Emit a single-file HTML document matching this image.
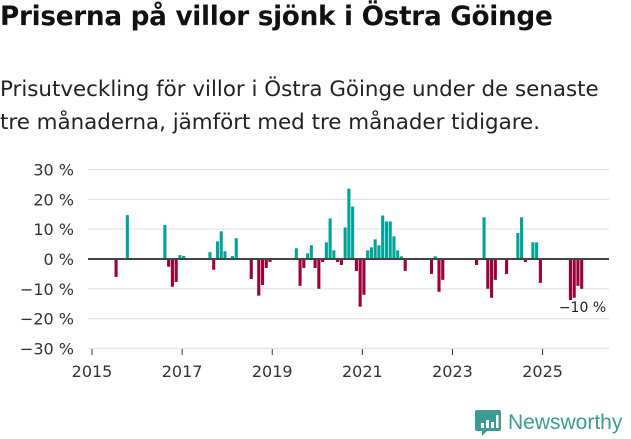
<!DOCTYPE html>
<html><head><meta charset="utf-8"><style>
body{margin:0;width:631px;height:439px;background:#fff;font-family:"DejaVu Sans","Liberation Sans",sans-serif;overflow:hidden;position:relative}
h1{position:absolute;left:0;top:2px;margin:0;font-size:26.3px;font-weight:bold;color:#111;letter-spacing:-0.3px;white-space:nowrap}
.sub{position:absolute;left:0;top:73px;margin:0;font-size:21.4px;line-height:33px;color:#222;white-space:nowrap}
svg{position:absolute;left:0;top:0}
</style></head><body>
<h1>Priserna på villor sjönk i Östra Göinge</h1>
<p class="sub">Prisutveckling för villor i Östra Göinge under de senaste<br>tre månaderna, jämfört med tre månader tidigare.</p>
<svg width="631" height="439">
<g id="grid"></g><g id="bars"></g><g id="axes"></g>
<g>
<path d="M477 410 h22 a2 2 0 0 1 2 2 v17 a2 2 0 0 1 -2 2 h-12 l-5 5 v-5 h-5 a2 2 0 0 1 -2 -2 v-17 a2 2 0 0 1 2 -2z" fill="#3d9c92"/>
<rect x="481" y="423" width="3" height="5" fill="#fff"/><rect x="486" y="420" width="3" height="8" fill="#fff"/><rect x="491" y="422" width="3" height="6" fill="#fff"/><rect x="496" y="415" width="2.5" height="13" fill="#fff"/>
<text x="508" y="429" font-size="21" fill="#3d9c92" font-family="Liberation Sans, sans-serif">Newsworthy</text>
</g>
</svg>
<script>
const startYear = 2015;
const months = [6,9,19,20,21,22,23,24,31,32,33,34,35,37,38,42,44,45,46,47,54,55,56,57,58,59,60,61,62,63,64,65,66,67,68,69,70,71,72,73,74,75,76,77,78,79,80,81,82,83,90,91,92,93,102,104,105,106,107,110,113,114,115,117,118,119,127,128,129,130];
const values = [-6,14.7,11.4,-2.6,-9.3,-7.7,1.3,1,2.3,-3.6,5.9,9.3,2.6,1,7,-6.7,-12.3,-8.7,-3,-1,3.6,-9,-3,1.9,4.6,-3,-10,-1,5.6,13.6,2.9,-1,-2,10.6,23.6,17.6,-4,-16,-12,2.9,3.9,6.6,4.6,14.6,12.6,12.6,7.6,2.9,0.9,-4,-5,0.9,-11,-7,-2,14,-10,-13,-7,-5,8.7,14,-1,5.6,5.6,-8,-13.8,-13,-9,-10];
const yTicks = [30,20,10,0,-10,-20,-30];
const xTicks = [2015,2017,2019,2021,2023,2025];
const NS='http://www.w3.org/2000/svg';
const x0=92, pxPerMonth=3.755, y0=259, pxPerPct=2.98;
const xm = m => x0 + pxPerMonth*m;
const ys = v => y0 - v*pxPerPct;
function mk(tag, attrs, parent, txt){const e=document.createElementNS(NS,tag);for(const k in attrs)e.setAttribute(k,attrs[k]);if(txt!==undefined)e.textContent=txt;document.getElementById(parent).appendChild(e);return e;}
yTicks.forEach(t=>{
  if(t!==0){const g=mk('line',{x1:88,x2:609,y1:ys(t),y2:ys(t),stroke:'#e3e3e3','stroke-width':1.2},'grid');
  
  }
  const l=mk('text',{x:74,y:ys(t)+6,'text-anchor':'end','font-size':16,fill:'#333'},'axes',(t<0?'−':'')+Math.abs(t)+' %');
  
  
});
values.forEach((v,i)=>{
  const y=ys(Math.max(v,0)), h=Math.abs(v)*pxPerPct;
  const r=mk('rect',{x:xm(months[i]),y:y,width:3.1,height:h,fill:v>=0?'#00a39a':'#9b0039'},'bars');
  
  
});
const zl=mk('line',{x1:88,x2:609,y1:y0,y2:y0,stroke:'#444','stroke-width':2},'axes');


xTicks.forEach(yr=>{
  const x=xm((yr-startYear)*12);
  const tk=mk('line',{x1:x,x2:x,y1:349,y2:355,stroke:'#333','stroke-width':1},'axes');
  
  
  const l=mk('text',{x:x,y:377,'text-anchor':'middle','font-size':16,fill:'#333'},'axes',yr);
  
  
});
const last=values.length-1;
const lab=mk('text',{x:xm(months[last])+26,y:ys(values[last])+23,'text-anchor':'end','font-size':14,fill:'#222'},'axes','−'+Math.abs(values[last])+' %');


</script>
</body></html>
